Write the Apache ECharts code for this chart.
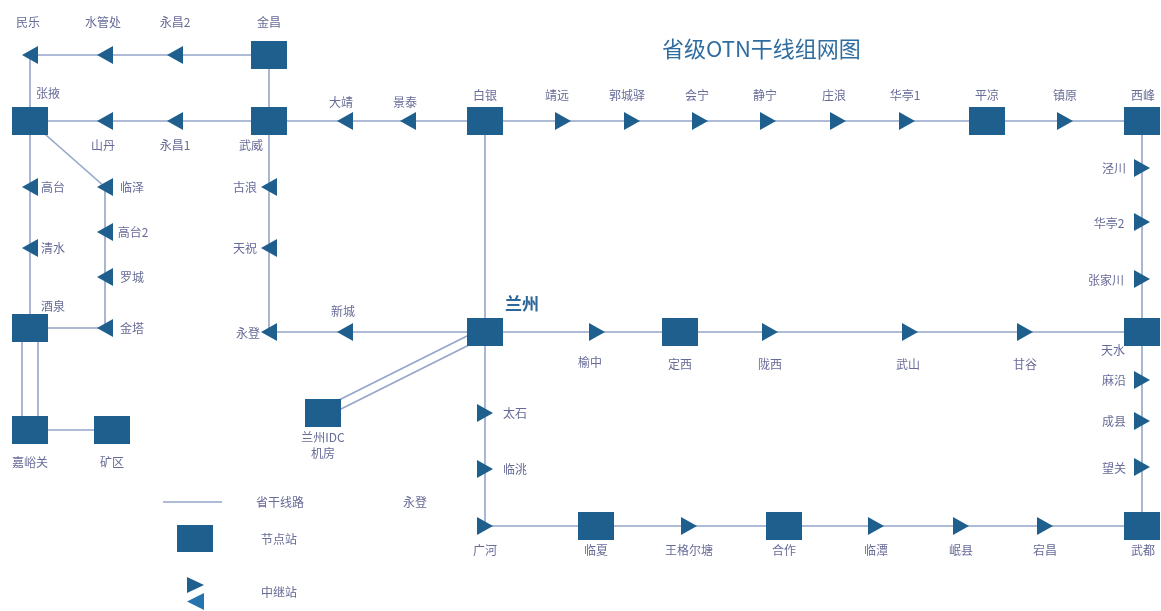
<!DOCTYPE html>
<html><head><meta charset="utf-8">
<script src="https://cdn.jsdelivr.net/npm/echarts@6/dist/echarts.min.js"></script>
<style>html,body{margin:0;padding:0;background:#fff}#c{width:1161px;height:611px}</style>
</head><body><div id="c"></div>
<script>
// ---------- DATA ----------
const titleText = '省级OTN干线组网图';
const stationNames = ['民乐','水管处','永昌2','金昌','张掖','山丹','永昌1','武威','大靖','景泰','白银','靖远','郭城驿','会宁','静宁','庄浪','华亭1','平凉','镇原','西峰',
  '高台','清水','临泽','高台2','罗城','金塔','酒泉','嘉峪关','矿区',
  '古浪','天祝','永登','新城','兰州','兰州IDC机房','榆中','定西','陇西','武山','甘谷','天水',
  '泾川','华亭2','张家川','麻沿','成县','望关','武都',
  '太石','临洮','广河','临夏','王格尔塘','合作','临潭','岷县','宕昌'];
const stationLabels = {'兰州IDC机房':'兰州IDC\n机房'};
const stationX = [30,105,175,269,30,105,175,269,345,408,485,563,632,700,768,838,907,987,1065,1142,
  30,30,105,105,105,105,30,30,112,
  269,269,269,345,485,323,597,680,770,910,1025,1142,
  1142,1142,1142,1142,1142,1142,1142,
  485,485,485,596,689,784,876,961,1045];
const stationY = [55,55,55,55,121,121,121,121,121,121,121,121,121,121,121,121,121,121,121,121,
  187,248,187,232,277,328,328,430,430,
  187,248,332,332,332,413,332,332,332,332,332,332,
  168,222,279,380,421,467,526,
  413,469,526,526,526,526,526,526,526];
// N = 节点站, L = 中继站 (left), R = 中继站 (right)
const stationKind = ['L','L','L','N','N','L','L','N','L','L','N','R','R','R','R','R','R','N','R','N',
  'L','L','L','L','L','L','N','N','N',
  'L','L','L','L','N','N','R','N','R','R','R','N',
  'R','R','R','R','R','R','N',
  'R','R','R','N','R','N','R','R','R'];
const routes = [
  ['民乐','水管处','永昌2','金昌','武威'],
  ['民乐','张掖'],
  ['张掖','山丹','永昌1','武威','大靖','景泰','白银','靖远','郭城驿','会宁','静宁','庄浪','华亭1','平凉','镇原','西峰'],
  ['张掖','高台','清水','酒泉'],
  ['张掖','临泽','高台2','罗城','金塔','酒泉'],
  ['嘉峪关','矿区'],
  ['武威','古浪','天祝','永登','新城','兰州','榆中','定西','陇西','武山','甘谷','天水'],
  ['白银','兰州','太石','临洮','广河','临夏','王格尔塘','合作','临潭','岷县','宕昌','武都'],
  ['西峰','泾川','华亭2','张家川','天水','麻沿','成县','望关','武都']
];
const doubleLinks = [['酒泉','嘉峪关'],['兰州','兰州IDC机房']];
const legendLabels = ['省干线路','节点站','中继站'];
const strayLabel = '永登';

// ---------- LAYOUT / STYLE ----------
const labelOffset = {
  '民乐':[-2,-33],'水管处':[-2,-33],'永昌2':[0,-33],'金昌':[0,-33],
  '张掖':[18,-28],'山丹':[-2,24],'永昌1':[0,24],'武威':[-18,24],
  '大靖':[-4,-19],'景泰':[-3,-19],'白银':[0,-26],
  '靖远':[-6,-26],'郭城驿':[-5,-26],'会宁':[-3,-26],'静宁':[-3,-26],'庄浪':[-4,-26],'华亭1':[-2,-26],'平凉':[0,-26],'镇原':[0,-26],'西峰':[1,-26],
  '高台':[23,0],'清水':[23,0],'临泽':[27,0],'高台2':[28,0],'罗城':[27,0],'金塔':[27,0],
  '酒泉':[23,-22],'嘉峪关':[0,32],'矿区':[0,32],
  '古浪':[-24,0],'天祝':[-24,0],'永登':[-21,1],'新城':[-2,-21],
  '兰州':[37,-28],'兰州IDC机房':[0,32],
  '榆中':[-7,30],'定西':[0,32],'陇西':[0,32],'武山':[-2,32],'甘谷':[0,32],'天水':[-29,18],
  '泾川':[-28,0],'华亭2':[-33,1],'张家川':[-36,1],'麻沿':[-28,0],'成县':[-28,0],'望关':[-28,1],'武都':[1,24],
  '太石':[30,0],'临洮':[30,0],'广河':[0,24],'临夏':[0,24],'王格尔塘':[0,24],'合作':[0,24],'临潭':[0,24],'岷县':[0,24],'宕昌':[0,24]
};
const NODE_COLOR = '#1f5f8e';
const LINE_COLOR = '#93a5c9';
const LABEL_COLOR = '#676b97';
const FONT = '"Noto Sans CJK SC","Noto Sans",sans-serif';
const TRI_R = 'path://M0,0L10,5L0,10Z';
const TRI_L = 'path://M10,0L0,5L10,10Z';

const pos = {};
stationNames.forEach((n, i) => { pos[n] = [stationX[i], stationY[i]]; });

const segs = [];
routes.forEach(r => { for (let i = 0; i < r.length - 1; i++) segs.push({ coords: [pos[r[i]], pos[r[i + 1]]] }); });
doubleLinks.forEach(([a, b]) => {
  const p = pos[a], q = pos[b];
  const dx = q[0] - p[0], dy = q[1] - p[1], L = Math.hypot(dx, dy);
  const nx = -dy / L, ny = dx / L;
  const g = a === '酒泉' ? 8 : 4.5;
  [-g, g].forEach(o => segs.push({ coords: [[p[0] + nx * o, p[1] + ny * o], [q[0] + nx * o, q[1] + ny * o]] }));
});

function item(i) {
  const n = stationNames[i];
  const off = labelOffset[n] || [0, 0];
  const lab = { offset: off, formatter: stationLabels[n] || n };
  if (n === '兰州') Object.assign(lab, { fontSize: 17, fontWeight: 'bold', color: '#2d679a' });
  return { name: n, value: [stationX[i], stationY[i]], label: lab };
}
const squares = [], triR = [], triL = [];
stationNames.forEach((n, i) => {
  const k = stationKind[i];
  if (k === 'N') squares.push(item(i)); else if (k === 'R') triR.push(item(i)); else triL.push(item(i));
});
const baseLabel = { show: true, position: 'inside', color: LABEL_COLOR, fontSize: 12, fontFamily: FONT, lineHeight: 16 };
const itemStyle = { color: NODE_COLOR, opacity: 1 };

const chart = echarts.init(document.getElementById('c'), null, { renderer: 'canvas' });
chart.setOption({
  animation: false,
  backgroundColor: '#fff',
  title: { text: titleText, left: 657, top: 33, textStyle: { color: '#2f6da0', fontSize: 22, fontWeight: 'normal', fontFamily: FONT } },
  grid: { left: 0, right: 0, top: 0, bottom: 0 },
  xAxis: { type: 'value', min: 0, max: 1161, show: false },
  yAxis: { type: 'value', min: 0, max: 611, inverse: true, show: false },
  series: [
    { type: 'lines', coordinateSystem: 'cartesian2d', z: 1, silent: true, lineStyle: { color: LINE_COLOR, width: 1.6, opacity: 1 }, data: segs },
    { type: 'scatter', z: 3, symbol: 'rect', symbolSize: [36, 28], itemStyle: itemStyle, label: baseLabel, data: squares },
    { type: 'scatter', z: 3, symbol: TRI_R, symbolSize: [16, 18], itemStyle: itemStyle, label: baseLabel, data: triR },
    { type: 'scatter', z: 3, symbol: TRI_L, symbolSize: [16, 18], itemStyle: itemStyle, label: baseLabel, data: triL }
  ],
  graphic: [
    { type: 'line', shape: { x1: 163, y1: 502, x2: 222, y2: 502 }, style: { stroke: LINE_COLOR, lineWidth: 1.6 } },
    { type: 'text', x: 280, y: 502, style: { text: legendLabels[0], fill: LABEL_COLOR, font: '12px ' + FONT, textAlign: 'center', textVerticalAlign: 'middle' } },
    { type: 'text', x: 415, y: 502, style: { text: strayLabel, fill: LABEL_COLOR, font: '12px ' + FONT, textAlign: 'center', textVerticalAlign: 'middle' } },
    { type: 'rect', shape: { x: 177, y: 525, width: 36, height: 27 }, style: { fill: NODE_COLOR } },
    { type: 'text', x: 279, y: 539, style: { text: legendLabels[1], fill: LABEL_COLOR, font: '12px ' + FONT, textAlign: 'center', textVerticalAlign: 'middle' } },
    { type: 'polygon', shape: { points: [[187, 577], [204, 585], [187, 593]] }, style: { fill: NODE_COLOR } },
    { type: 'polygon', shape: { points: [[204, 593], [187, 601.5], [204, 610]] }, style: { fill: '#2674ad' } },
    { type: 'text', x: 279, y: 592, style: { text: legendLabels[2], fill: LABEL_COLOR, font: '12px ' + FONT, textAlign: 'center', textVerticalAlign: 'middle' } }
  ]
});
</script></body></html>
